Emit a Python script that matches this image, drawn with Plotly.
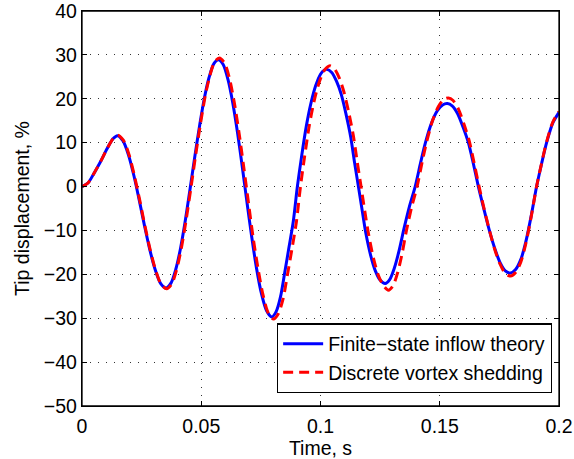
import plotly.graph_objects as go

# Finite-state inflow theory (blue)
t_fs = [0.0000, 0.0025, 0.0050, 0.0077, 0.0105, 0.0130, 0.0149, 0.0172, 0.0195, 0.0218,
        0.0240, 0.0262, 0.0284, 0.0306, 0.0330, 0.0353, 0.0373, 0.0393, 0.0413, 0.0433,
        0.0454, 0.0474, 0.0494, 0.0514, 0.0533, 0.0553, 0.0572, 0.0592, 0.0612, 0.0632,
        0.0652, 0.0672, 0.0692, 0.0712, 0.0732, 0.0752, 0.0774, 0.0796, 0.0814, 0.0832,
        0.0850, 0.0868, 0.0886, 0.0903, 0.0920, 0.0940, 0.0960, 0.0980, 0.1000, 0.1015,
        0.1027, 0.1047, 0.1067, 0.1087, 0.1107, 0.1127, 0.1143, 0.1159, 0.1175, 0.1190,
        0.1210, 0.1230, 0.1250, 0.1271, 0.1290, 0.1310, 0.1330, 0.1350, 0.1373, 0.1397,
        0.1420, 0.1440, 0.1465, 0.1490, 0.1512, 0.1532, 0.1552, 0.1575, 0.1598, 0.1620,
        0.1641, 0.1662, 0.1685, 0.1708, 0.1730, 0.1752, 0.1775, 0.1797, 0.1818, 0.1840,
        0.1860, 0.1883, 0.1906, 0.1927, 0.1948, 0.1975, 0.2000]
v_fs = [0.0, 0.8, 3.0, 5.6, 8.6, 10.9, 11.6, 10.4, 7.2, 2.4,
        -3.1, -8.9, -14.3, -18.8, -22.1, -23.1, -22.0, -18.9, -14.1, -7.8,
        -0.2, 7.2, 14.2, 20.4, 24.9, 28.0, 28.9, 27.8, 24.4, 19.1,
        12.3, 4.5, -3.7, -11.6, -18.7, -24.3, -28.3, -29.7, -28.5, -25.2,
        -19.6, -13.8, -7.9, 0.0, 6.6, 13.6, 19.0, 23.0, 25.6, 26.5,
        26.7, 26.0, 24.0, 21.0, 16.5, 11.2, 5.4, 0.0, -5.5, -10.6,
        -15.6, -19.2, -21.3, -22.1, -21.2, -18.5, -14.5, -9.6, -4.5, 0.0,
        5.5, 10.0, 14.4, 17.3, 18.6, 18.9, 18.4, 16.6, 13.5, 10.0,
        5.2, 0.0, -5.1, -10.0, -14.0, -17.2, -19.2, -19.7, -18.9, -16.6,
        -12.8, -6.8, 0.0, 5.2, 10.0, 14.6, 16.9]

# Discrete vortex shedding (red dashed)
t_dv = [0.0000, 0.0025, 0.0050, 0.0077, 0.0105, 0.0130, 0.0150, 0.0174, 0.0197, 0.0220,
        0.0242, 0.0264, 0.0286, 0.0308, 0.0332, 0.0355, 0.0376, 0.0396, 0.0416, 0.0436,
        0.0457, 0.0477, 0.0497, 0.0517, 0.0536, 0.0556, 0.0576, 0.0597, 0.0618, 0.0638,
        0.0658, 0.0678, 0.0698, 0.0718, 0.0739, 0.0759, 0.0781, 0.0803, 0.0823, 0.0843,
        0.0862, 0.0881, 0.0899, 0.0916, 0.0933, 0.0953, 0.0973, 0.0993, 0.1013, 0.1028,
        0.1040, 0.1059, 0.1079, 0.1098, 0.1118, 0.1138, 0.1154, 0.1170, 0.1186, 0.1202,
        0.1222, 0.1243, 0.1264, 0.1285, 0.1304, 0.1323, 0.1342, 0.1360, 0.1382, 0.1405,
        0.1427, 0.1447, 0.1471, 0.1495, 0.1516, 0.1536, 0.1556, 0.1578, 0.1601, 0.1623,
        0.1644, 0.1665, 0.1687, 0.1710, 0.1731, 0.1753, 0.1775, 0.1797, 0.1818, 0.1840,
        0.1860, 0.1883, 0.1906, 0.1927, 0.1948, 0.1975, 0.2000]
v_dv = [0.0, 0.8, 3.0, 5.6, 8.6, 10.9, 11.7, 10.5, 7.3, 2.4,
        -3.1, -9.0, -14.4, -18.9, -22.3, -23.3, -22.2, -19.1, -14.2, -7.8,
        -0.2, 7.3, 14.4, 20.7, 25.2, 28.4, 29.3, 28.2, 24.7, 19.3,
        12.4, 4.5, -3.7, -11.8, -19.0, -24.7, -28.8, -30.2, -29.0, -25.6,
        -19.9, -14.0, -8.0, 0.0, 6.7, 13.9, 19.4, 23.5, 26.2, 27.2,
        27.5, 26.8, 24.7, 21.6, 17.0, 11.5, 5.6, 0.0, -5.7, -11.0,
        -16.3, -20.3, -22.6, -23.6, -22.6, -19.7, -15.3, -10.1, -4.7, 0.0,
        5.8, 10.6, 15.2, 18.3, 19.8, 20.2, 19.6, 17.7, 14.3, 10.5,
        5.4, 0.0, -5.3, -10.3, -14.4, -17.7, -19.8, -20.4, -19.6, -17.2,
        -13.2, -7.0, 0.0, 5.3, 10.2, 14.8, 17.1]

x_ticks = [0, 0.05, 0.1, 0.15, 0.2]
x_labels = ["0", "0.05", "0.1", "0.15", "0.2"]
y_ticks = [-50, -40, -30, -20, -10, 0, 10, 20, 30, 40]

FONT = "Liberation Sans, Arial, Helvetica, sans-serif"
FS = 19.5

fig = go.Figure()
fig.add_trace(go.Scatter(x=t_fs, y=v_fs, mode="lines", name="Finite\u2212state inflow theory",
                         line=dict(color="#0000ff", width=3, shape="spline", smoothing=0.8)))
fig.add_trace(go.Scatter(x=t_dv, y=v_dv, mode="lines", name="Discrete vortex shedding",
                         line=dict(color="#ff0000", width=3, dash="10px,6px", shape="spline", smoothing=0.8)))

axis_common = dict(showline=True, linecolor="black", linewidth=1.3, mirror="ticks",
                   ticks="inside", ticklen=5, tickcolor="black", tickwidth=1,
                   showgrid=True, gridcolor="#333333", griddash="1px,7px", gridwidth=1,
                   zeroline=False, automargin=False, ticklabeloverflow="allow",
                   tickfont=dict(size=FS, color="black", family=FONT))

fig.update_layout(
    width=574, height=459,
    margin=dict(l=82, r=15, t=11, b=53),
    paper_bgcolor="white", plot_bgcolor="white",
    font=dict(family=FONT, size=FS, color="black"),
    xaxis=dict(range=[0, 0.2], tickvals=x_ticks, ticktext=x_labels, ticklabelstandoff=2,
               title=dict(text="Time, s", font=dict(size=FS), standoff=2), **axis_common),
    yaxis=dict(range=[-50, 40], tickvals=y_ticks,
               title=dict(text="Tip displacement, %", font=dict(size=FS), standoff=9), **axis_common),
    legend=dict(x=0.985, y=0.032, xanchor="right", yanchor="bottom",
                bgcolor="white", bordercolor="black", borderwidth=1.3,
                font=dict(size=FS, family=FONT), tracegroupgap=0, itemwidth=40),
    showlegend=True,
    shapes=[dict(type="rect", xref="paper", yref="paper", x0=0, x1=1, y0=0, y1=1,
                 line=dict(color="black", width=1.3), fillcolor="rgba(0,0,0,0)", layer="above")],
)

fig.write_html("out.html")
